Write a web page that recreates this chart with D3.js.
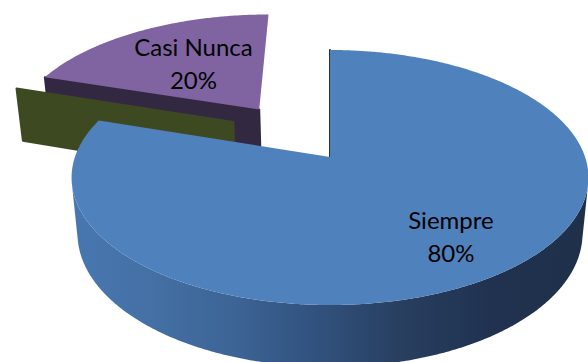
<!DOCTYPE html>
<html>
<head>
<meta charset="utf-8">
<script src="https://cdn.jsdelivr.net/npm/d3@7"></script>
<style>
  html, body { margin: 0; padding: 0; background: #ffffff; }
  svg { display: block; }
</style>
</head>
<body>
<script>
// ---- data ----
const categories = ["Siempre", "A veces", "Casi Nunca"];
const values = [80, 0, 20];
const showLabel = [true, false, true];

// ---- styles ----
const topFill = ["#4F81BD", "#9BBB59", "#8064A2"];
const faceFill = ["#1F3049", "#3D4A21", "#332841"];
// outer wall shading of the big slice, left to right
const wallStops = [
  { x: 70, c: "#4877B0" }, { x: 150, c: "#4470A5" }, { x: 230, c: "#3D6596" },
  { x: 300, c: "#335583" }, { x: 400, c: "#283F60" }, { x: 490, c: "#203250" },
  { x: 588, c: "#1F3049" }
];

// ---- layout ----
const width = 588, height = 362;
// explosion distance (pie radii) and direction (deg clockwise from 12 o'clock; null = slice middle)
const explodeDist = [0, 0.495, 0.503];
const explodeDir = [null, 306.6, null];
const labelRadius = [0.73, 0, 0.53];
const view = { cx: 330, cy: 157, focal: 1385, dist: 5.43, tilt: Math.asin(0.487) };
const thickness = 0.255;

const ct = Math.cos(view.tilt), st = Math.sin(view.tilt);
function project(x, y, z) {
  const v = y * st + z * ct;
  const w = view.dist + y * ct - z * st;
  return [view.cx + view.focal * x / w, view.cy - view.focal * v / w];
}

const svg = d3.select("body").append("svg")
  .attr("width", width).attr("height", height);

const defs = svg.append("defs");
const grad = defs.append("linearGradient").attr("id", "wall0")
  .attr("gradientUnits", "userSpaceOnUse")
  .attr("x1", 70).attr("x2", 588).attr("y1", 0).attr("y2", 0);
grad.selectAll("stop").data(wallStops).join("stop")
  .attr("offset", d => (d.x - 70) / (588 - 70))
  .attr("stop-color", d => d.c);

const arcs = d3.pie().sort(null).value(d => d)(values);
const line = d3.line();
const pct = d3.format(".0%");
const total = d3.sum(values);

const slices = arcs.map((a, i) => {
  const mid = (a.startAngle + a.endAngle) / 2;
  const dir = explodeDir[i] == null ? mid : explodeDir[i] * Math.PI / 180;
  return {
    i, a0: a.startAngle, a1: a.endAngle, mid,
    ox: explodeDist[i] * Math.sin(dir),
    oy: explodeDist[i] * Math.cos(dir)
  };
});

function rimAngles(s) {
  const n = Math.max(2, Math.ceil((s.a1 - s.a0) / (Math.PI / 360)) + 1);
  return d3.range(n).map(k => s.a0 + (s.a1 - s.a0) * k / (n - 1));
}
function rimPoint(s, a, z) {
  return project(s.ox + Math.sin(a), s.oy + Math.cos(a), z);
}

// visible stretch of the outer wall: segments whose quad faces the viewer
function wallPath(s) {
  const angs = rimAngles(s);
  const top = angs.map(a => rimPoint(s, a, 0));
  const bot = angs.map(a => rimPoint(s, a, -thickness));
  const runs = [];
  let cur = null;
  for (let k = 0; k < angs.length - 1; k++) {
    const q = [top[k], top[k + 1], bot[k + 1], bot[k]];
    let area = 0;
    for (let j = 0; j < 4; j++) {
      const p = q[j], r = q[(j + 1) % 4];
      area += p[0] * r[1] - r[0] * p[1];
    }
    if (area < 0) {
      if (!cur) { cur = [k, k + 1]; runs.push(cur); } else cur[1] = k + 1;
    } else cur = null;
  }
  return runs.map(([k0, k1]) =>
    line(top.slice(k0, k1 + 1).concat(bot.slice(k0, k1 + 1).reverse())) + "Z").join("");
}

// back to front
const order = slices.slice().sort((p, q) =>
  (q.oy + 0.5 * Math.cos(q.mid)) - (p.oy + 0.5 * Math.cos(p.mid)));

const g = svg.append("g");
order.forEach(s => {
  const sg = g.append("g").attr("class", "slice");
  // radial face at the slice's starting edge
  const ea = s.a0;
  const face = [
    project(s.ox, s.oy, 0),
    rimPoint(s, ea, 0),
    rimPoint(s, ea, -thickness),
    project(s.ox, s.oy, -thickness)
  ];
  sg.append("path").attr("d", line(face) + "Z")
    .attr("fill", faceFill[s.i]).attr("stroke", faceFill[s.i]).attr("stroke-width", 2)
    .attr("stroke-linejoin", "round");
  if (s.a1 > s.a0) {
    const wd = wallPath(s);
    if (wd) sg.append("path").attr("d", wd)
      .attr("fill", s.i === 0 ? "url(#wall0)" : faceFill[s.i]);
    const top = [project(s.ox, s.oy, 0)].concat(rimAngles(s).map(a => rimPoint(s, a, 0)));
    sg.append("path").attr("d", line(top) + "Z").attr("fill", topFill[s.i]);
  }
});

// data labels
slices.filter(s => showLabel[s.i]).forEach(s => {
  const r = labelRadius[s.i];
  const [lx, ly] = project(s.ox + r * Math.sin(s.mid), s.oy + r * Math.cos(s.mid), 0);
  const t = svg.append("text")
    .attr("text-anchor", "middle")
    .attr("font-family", "Lato, 'Open Sans', sans-serif")
    .attr("font-size", 24)
    .attr("fill", "#000");
  t.append("tspan").attr("x", lx).attr("y", ly - 9.5).text(categories[s.i]);
  t.append("tspan").attr("x", lx).attr("y", ly + 23.5).text(pct(values[s.i] / total));
});
</script>
</body>
</html>
